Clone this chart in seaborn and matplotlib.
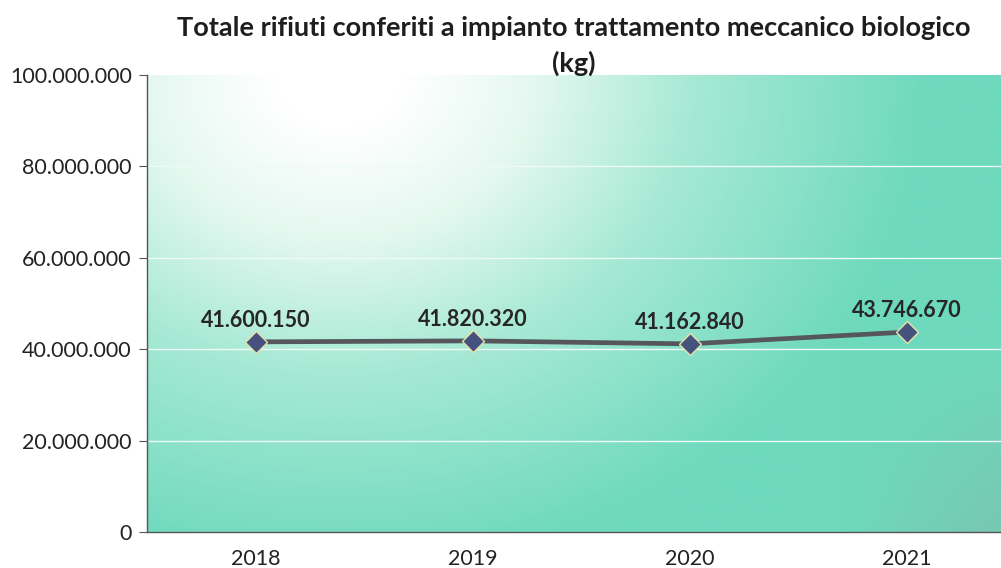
import numpy as np
import pandas as pd
import matplotlib
matplotlib.use("Agg")
import matplotlib.pyplot as plt
import seaborn as sns
from matplotlib.colors import LinearSegmentedColormap
from matplotlib.ticker import FuncFormatter, FixedLocator

anni = ["2018", "2019", "2020", "2021"]
kg = [41600150, 41820320, 41162840, 43746670]
yticks = [0, 20000000, 40000000, 60000000, 80000000, 100000000]

titolo = "Totale rifiuti conferiti a impianto trattamento meccanico biologico\n(kg)"

df = pd.DataFrame({"anno": anni, "kg": kg})

sns.set_style("white")
plt.rcParams["font.family"] = ["Lato", "DejaVu Sans"]

fig = plt.figure(figsize=(10.01, 5.68), dpi=100)
ax = fig.add_axes([0.147, 0.0634, 0.867, 0.8046])

# sfondo sfumato bianco -> verde acqua
h, w = 200, 400
xx, yy = np.meshgrid(np.linspace(0, 1, w), np.linspace(1, 0, h))
r = np.sqrt(((xx - 0.22) / 0.72) ** 2 + ((yy - 1.0) / 1.15) ** 2)
t = np.clip((r - 0.1) / 0.85, 0, 1)
cmap = LinearSegmentedColormap.from_list(
    "bg", [(0, "#ffffff"), (0.25, "#e4f8f0"), (0.55, "#a6e9d4"), (1, "#6ed9bd")])
rgb = cmap(t)[..., :3]
# angolo in basso a destra piu' grigio
g = np.clip((xx - 0.8) / 0.2, 0, 1) * np.clip((0.4 - yy) / 0.4, 0, 1)
grey = np.array([0.52, 0.70, 0.65])
rgb = rgb * (1 - 0.5 * g[..., None]) + grey * 0.5 * g[..., None]
ax.imshow(rgb, extent=[0, 1, 0, 1], transform=ax.transAxes, aspect="auto",
          zorder=0, interpolation="bilinear")

for v in yticks[1:-1]:
    ax.axhline(v, color="#eefaf6", lw=1.0, zorder=1)

sns.lineplot(data=df, x="anno", y="kg", ax=ax, sort=False, color="#55575c",
             lw=3.4, marker="D", markersize=11, markerfacecolor="#46527e",
             markeredgecolor="#e8e2a8", markeredgewidth=1.0, zorder=3)

for i, v in enumerate(kg):
    ax.annotate(f"{v:,}".replace(",", "."), (i, v), xytext=(0, 8),
                textcoords="offset points", ha="center", va="bottom",
                fontsize=15.5, fontweight="bold", color="#262626")

ax.set_xlim(-0.5, 3.5)
ax.set_ylim(0, 100000000)
ax.yaxis.set_major_locator(FixedLocator(yticks))
ax.yaxis.set_major_formatter(FuncFormatter(lambda v, p: f"{int(v):,}".replace(",", ".")))
ax.xaxis.set_minor_locator(FixedLocator([-0.5, 0.5, 1.5, 2.5, 3.5]))
ax.tick_params(axis="x", which="major", length=0, pad=12, labelsize=15.5, labelcolor="#222222")
ax.tick_params(axis="x", which="minor", length=6, color="#555555", direction="out")
ax.tick_params(axis="y", length=6, color="#555555", direction="out", left=True,
               labelsize=15.5, labelcolor="#222222", pad=5)
ax.set_xlabel("")
ax.set_ylabel("")
for s in ["top", "right"]:
    ax.spines[s].set_visible(False)
for s in ["left", "bottom"]:
    ax.spines[s].set_color("#555555")
    ax.spines[s].set_linewidth(1.0)

fig.text(0.573, 0.972, titolo, ha="center", va="top", fontsize=19.5,
         fontweight="bold", color="#1e1e1e", linespacing=1.5)

fig.savefig("out.png", dpi=100)
